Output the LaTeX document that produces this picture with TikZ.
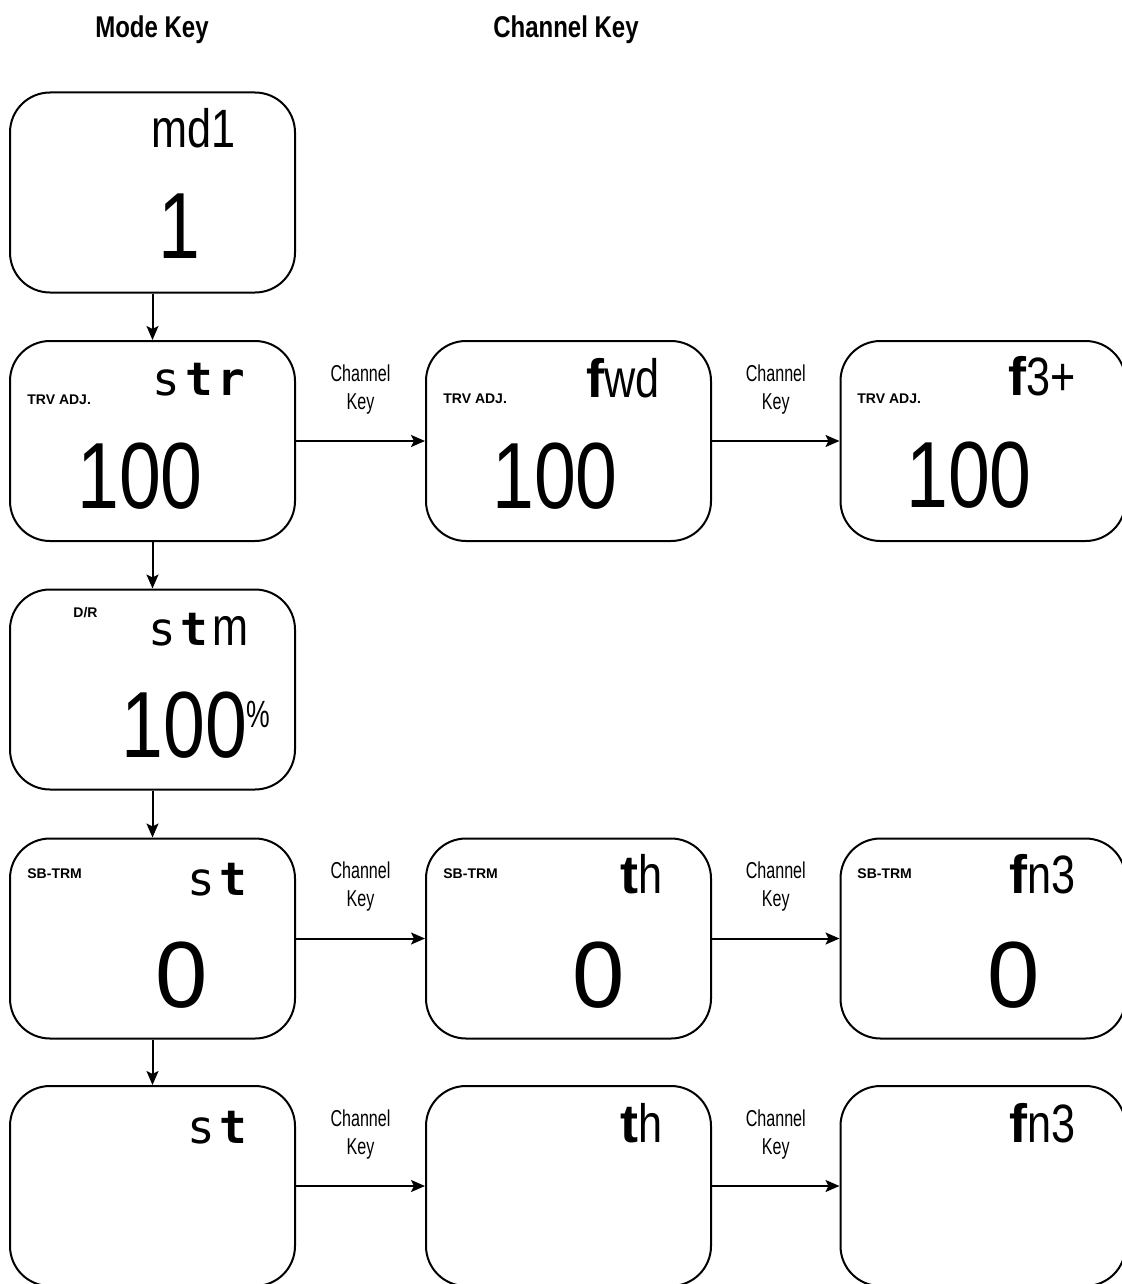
\documentclass[tikz,border=0pt]{standalone}
\usepackage{fontspec}
\setmainfont{Liberation Sans}
\newfontfamily\narrowfont[FakeStretch=0.8]{Liberation Sans}
\newfontfamily\condfont[FakeStretch=0.7]{Liberation Sans}
\newfontfamily\lcdmono[LetterSpace=10]{DejaVu Sans Mono}
\usetikzlibrary{positioning,arrows.meta}
\tikzset{
  panel/.style    = {draw, line width=1pt, rounded corners=20pt,
                     minimum width=142.5pt, minimum height=100pt, inner sep=0pt},
  modelbl/.style  = {inner sep=0pt, anchor=base east, font=\fontsize{27}{27}\selectfont},
  tagline/.style  = {inner sep=0pt, anchor=base west, font=\fontsize{7}{8}\selectfont\bfseries},
  bignum/.style   = {inner sep=0pt, anchor=base, font=\fontsize{47}{47}\narrowfont},
  zeronum/.style  = {bignum, font=\fontsize{47}{47}\selectfont},
  keyarrow/.style = {-{Stealth[length=7pt,width=6pt,inset=1.5pt]}, line width=1pt},
  keylbl/.style   = {inner sep=0pt, align=center, font=\fontsize{11.5}{14}\condfont},
  titlelbl/.style = {inner sep=0pt, font=\fontsize{15}{16}\narrowfont\bfseries}
}
\newcommand{\lcdchars}[1]{{\fontsize{23}{23}\lcdmono #1}}

\begin{document}
\begin{tikzpicture}[x=0.5pt, y=-0.5pt]
  \useasboundingbox (0,0) rectangle (1122,1284);
  % ---- headings ----
  \node[titlelbl] (tmode) at (152,30) {Mode Key};
  \node[titlelbl] (tchan) at (566,30) {Channel Key};
  % ---- panels (row 1..5, column a..c) ----
  \node[panel] (p1)  at (152.5,192.5) {};
  \node[panel] (p2a) at (152.5,441)   {};
  \node[panel] (p2b) at (568.5,441)   {};
  \node[panel] (p2c) at (983,441)     {};
  \node[panel] (p3)  at (152.5,689.5) {};
  \node[panel] (p4a) at (152.5,938.5) {};
  \node[panel] (p4b) at (568.5,938.5) {};
  \node[panel] (p4c) at (983,938.5)   {};
  \node[panel] (p5a) at (152.5,1186)  {};
  \node[panel] (p5b) at (568.5,1186)  {};
  \node[panel] (p5c) at (983,1186)    {};
  % ---- row 1 ----
  \node[modelbl] (m1) at (236,148) {{\narrowfont md1}};
  \node[bignum]  (v1) at (179.5,258) {1};
  % ---- row 2 ----
  \node[tagline] (g2a) at (27,404)  {TRV ADJ.};
  \node[tagline] (g2b) at (443,403) {TRV ADJ.};
  \node[tagline] (g2c) at (857,403) {TRV ADJ.};
  \node[modelbl] (m2a) at (250,395)  {\lcdchars{s\textbf{tr}}};
  \node[modelbl] (m2b) at (660,397)  {\textbf{f}{\narrowfont wd}};
  \node[modelbl] (m2c) at (1076,395) {\textbf{f}{\narrowfont 3+}};
  \node[bignum]  (v2a) at (140,508) {100};
  \node[bignum]  (v2b) at (555,508) {100};
  \node[bignum]  (v2c) at (969,507) {100};
  % ---- row 3 ----
  \node[tagline] (g3) at (73,617) {D/R};
  \node[modelbl] (m3) at (249,645) {\lcdchars{s\textbf{t}}{\narrowfont m}};
  \node[bignum, anchor=base east] (v3) at (271,757)
    {100\raisebox{15pt}{\fontsize{19}{19}\condfont\%}};
  % ---- row 4 ----
  \node[tagline] (g4a) at (27,878)  {SB-TRM};
  \node[tagline] (g4b) at (443,878) {SB-TRM};
  \node[tagline] (g4c) at (857,878) {SB-TRM};
  \node[modelbl] (m4a) at (252,895)  {\lcdchars{s\textbf{t}}};
  \node[modelbl] (m4b) at (663,893)  {\textbf{t}{\narrowfont h}};
  \node[modelbl] (m4c) at (1076,893) {\textbf{f}{\narrowfont n3}};
  \node[zeronum] (v4a) at (182,1007)  {0};
  \node[zeronum] (v4b) at (599,1007)  {0};
  \node[zeronum] (v4c) at (1014,1007) {0};
  % ---- row 5 ----
  \node[modelbl] (m5a) at (252,1143)  {\lcdchars{s\textbf{t}}};
  \node[modelbl] (m5b) at (663,1142)  {\textbf{t}{\narrowfont h}};
  \node[modelbl] (m5c) at (1076,1142) {\textbf{f}{\narrowfont n3}};
  % ---- mode key arrows ----
  \draw[keyarrow] (p1.south)  -- (p2a.north);
  \draw[keyarrow] (p2a.south) -- (p3.north);
  \draw[keyarrow] (p3.south)  -- (p4a.north);
  \draw[keyarrow] (p4a.south) -- (p5a.north);
  % ---- channel key arrows ----
  \draw[keyarrow] (p2a) -- node[keylbl, above=13pt] (k2a) {Channel\\Key} (p2b);
  \draw[keyarrow] (p2b) -- node[keylbl, above=13pt] (k2b) {Channel\\Key} (p2c);
  \draw[keyarrow] (p4a) -- node[keylbl, above=13pt] (k4a) {Channel\\Key} (p4b);
  \draw[keyarrow] (p4b) -- node[keylbl, above=13pt] (k4b) {Channel\\Key} (p4c);
  \draw[keyarrow] (p5a) -- node[keylbl, above=13pt] (k5a) {Channel\\Key} (p5b);
  \draw[keyarrow] (p5b) -- node[keylbl, above=13pt] (k5b) {Channel\\Key} (p5c);
\end{tikzpicture}
\end{document}
